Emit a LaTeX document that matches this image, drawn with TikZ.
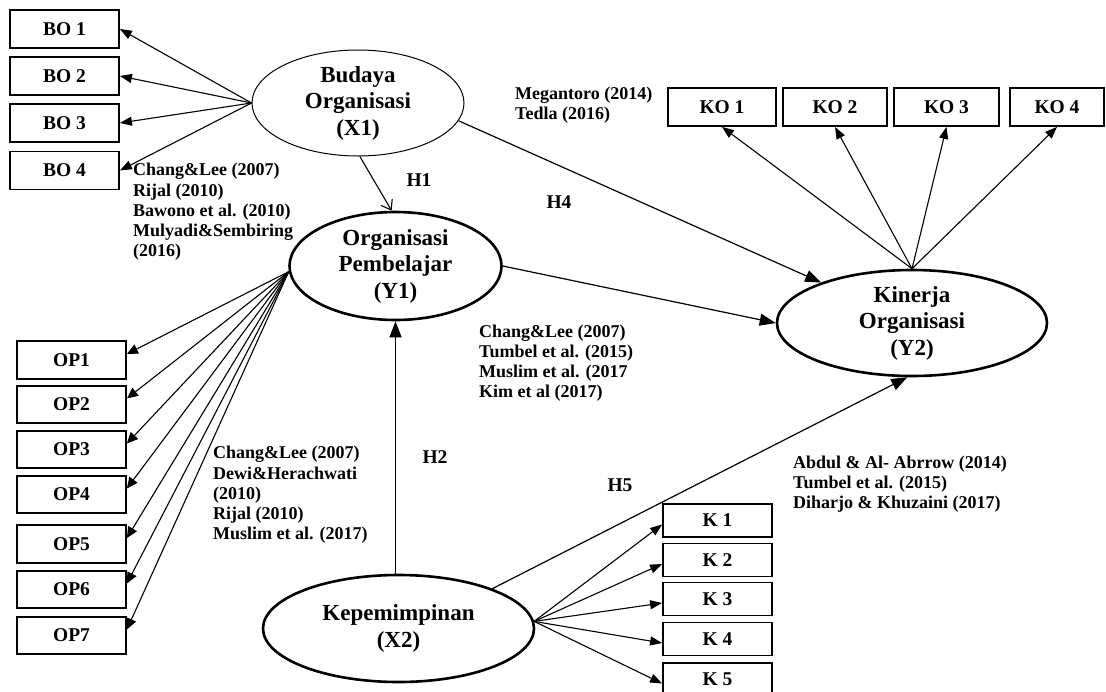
\documentclass[tikz,border=0pt]{standalone}
\usepackage{fontspec}
\setmainfont{Liberation Serif}
\usetikzlibrary{shapes.geometric,arrows.meta}

\begin{document}
\begin{tikzpicture}[x=1pt,y=-1pt,
  ind/.style={draw, line width=1.8pt, minimum height=38pt, inner sep=0pt,
    font=\fontsize{19.5}{22}\selectfont\bfseries},
  kbox/.style={ind, minimum width=109pt, minimum height=33pt},
  lat/.style={draw, ellipse, line width=2.6pt, inner sep=0pt, align=center,
    font=\fontsize{23}{26.5}\selectfont\bfseries},
  cite/.style={anchor=west, align=left, inner sep=0pt,
    font=\fontsize{18}{20.2}\selectfont\bfseries},
  hyp/.style={inner sep=0pt, font=\fontsize{19.5}{22}\selectfont\bfseries},
  load/.style={-{Triangle[length=12pt,width=9pt]}, line width=1.1pt},
  pth/.style={-{Triangle[length=16pt,width=12pt]}, line width=1.2pt},
]
\useasboundingbox (0,0) rectangle (1106,691);

% latent constructs
\node[lat, line width=1pt, minimum width=212pt, minimum height=106pt] (X1) at (358,103)
  {Budaya\\Organisasi\\(X1)};
\node[lat, minimum width=212pt, minimum height=108pt] (Y1) at (395.5,266)
  {Organisasi\\Pembelajar\\(Y1)};
\node[lat, minimum width=270pt, minimum height=106pt] (Y2) at (912,323)
  {Kinerja\\Organisasi\\(Y2)};
\node[lat, minimum width=271pt, minimum height=107pt] (X2) at (398.5,628.5)
  {Kepemimpinan\\(X2)};

% indicators of X1
\node[ind, minimum width=109pt] (bo1) at (64.5,29) {BO 1};
\node[ind, minimum width=109pt] (bo2) at (64.5,76) {BO 2};
\node[ind, minimum width=109pt] (bo3) at (64.5,123) {BO 3};
\node[ind, minimum width=109pt] (bo4) at (64.5,170.5) {BO 4};

% indicators of Y2
\node[ind, minimum width=108pt] (ko1) at (722,107) {KO 1};
\node[ind, minimum width=104pt] (ko2) at (835,107) {KO 2};
\node[ind, minimum width=105pt] (ko3) at (946.5,107) {KO 3};
\node[ind, minimum width=94pt] (ko4) at (1057,107) {KO 4};

% indicators of Y1
\node[ind, minimum width=109pt, minimum height=37.5pt] (op1) at (71.5,360) {OP1};
\node[ind, minimum width=109pt, minimum height=37.5pt] (op2) at (71.5,404.5) {OP2};
\node[ind, minimum width=109pt, minimum height=37.5pt] (op3) at (71.5,449.5) {OP3};
\node[ind, minimum width=109pt, minimum height=37.5pt] (op4) at (71.5,494.5) {OP4};
\node[ind, minimum width=109pt, minimum height=37.5pt] (op5) at (71.5,544) {OP5};
\node[ind, minimum width=109pt, minimum height=37.5pt] (op6) at (71.5,589.5) {OP6};
\node[ind, minimum width=109pt, minimum height=37.5pt] (op7) at (71.5,635.5) {OP7};

% indicators of X2
\node[kbox] (k1) at (717.5,520.5) {K 1};
\node[kbox] (k2) at (717.5,560) {K 2};
\node[kbox] (k3) at (717.5,599) {K 3};
\node[kbox] (k4) at (717.5,639) {K 4};
\node[kbox] (k5) at (717.5,679.5) {K 5};

% references
\node[cite] (c1) at (133,212) {Chang\&Lee (2007)\\Rijal (2010)\\Bawono et al. (2010)\\Mulyadi\&Sembiring\\(2016)};
\node[cite] (c2) at (515,105) {Megantoro (2014)\\Tedla (2016)};
\node[cite] (c3) at (479,363) {Chang\&Lee (2007)\\Tumbel et al. (2015)\\Muslim et al. (2017\\Kim et al (2017)};
\node[cite] (c4) at (213,495) {Chang\&Lee (2007)\\Dewi\&Herachwati\\(2010)\\Rijal (2010)\\Muslim et al. (2017)};
\node[cite] (c5) at (793,484) {Abdul \& Al- Abrrow (2014)\\Tumbel et al. (2015)\\Diharjo \& Khuzaini (2017)};

% hypothesis labels
\node[hyp] (h1) at (419,180) {H1};
\node[hyp] (h2) at (435,457) {H2};
\node[hyp] (h4) at (559,202) {H4};
\node[hyp] (h5) at (620,485) {H5};

% loadings
\foreach \i in {1,...,4} \draw[load] (X1.west) -- (bo\i.east);
\foreach \i in {1,...,4} \draw[load] (Y2.north) -- (ko\i.south);
\foreach \i in {1,...,7} \draw[load, -{Triangle[length=11pt,width=10pt]}] (Y1.183) -- ([yshift=6pt]op\i.east);
\foreach \i in {1,...,5} \draw[load] (X2.3) -- ([yshift=-4pt]k\i.west);

% structural paths
\draw[line width=1.1pt, -{Straight Barb[length=9pt,width=13pt]}] (X1.272) -- (Y1.94);
\draw[pth] (X1.-10) -- (Y2.156);
\draw[pth] (Y1.east) -- (Y2.west);
\draw[pth] (Y1.south |- X2.north) -- (Y1.south);
\draw[pth] (X2.23) -- (Y2.265);
\end{tikzpicture}
\end{document}
